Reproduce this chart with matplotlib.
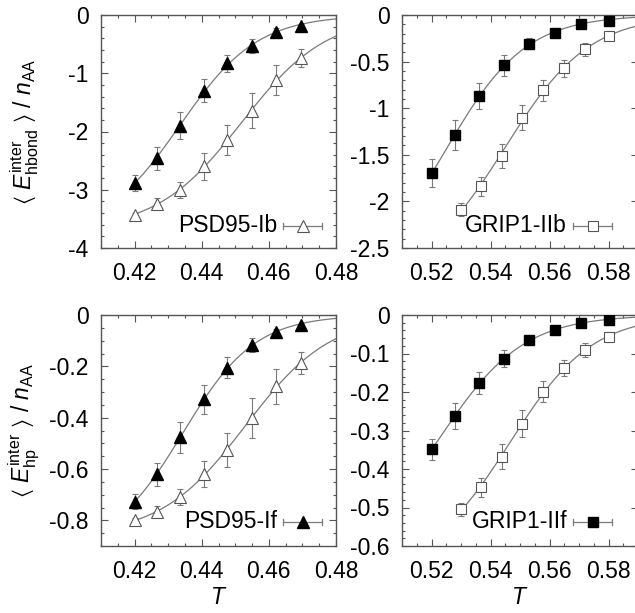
import numpy as np
import matplotlib
matplotlib.use("Agg")
import matplotlib.pyplot as plt
from matplotlib.ticker import MultipleLocator, FormatStrFormatter

plt.rcParams['font.family'] = ['Liberation Sans', 'DejaVu Sans']
plt.rcParams['mathtext.fontset'] = 'custom'
plt.rcParams['mathtext.rm'] = 'Liberation Sans'
plt.rcParams['mathtext.it'] = 'Liberation Sans:italic'
plt.rcParams['mathtext.fallback'] = 'stixsans'
plt.rcParams['axes.unicode_minus'] = False

# ---------------- data ----------------
T_psd = [0.42, 0.4267, 0.4335, 0.4407, 0.4476, 0.455, 0.4621, 0.4696]
T_grip_f = [0.52, 0.528, 0.5362, 0.5447, 0.5531, 0.5619, 0.5706, 0.58]
T_grip_b = [0.53, 0.5367, 0.5438, 0.5506, 0.5577, 0.565, 0.5721, 0.58]

# hydrogen-bond energy (top row)
psd_hb_f = [-2.88, -2.46, -1.90, -1.30, -0.83, -0.53, -0.29, -0.19]
psd_hb_f_err = [0.14, 0.20, 0.23, 0.20, 0.15, 0.12, 0.07, 0.04]
psd_hb_b = [-3.43, -3.24, -3.00, -2.60, -2.15, -1.64, -1.12, -0.74]
psd_hb_b_err = [0.03, 0.09, 0.14, 0.23, 0.26, 0.30, 0.26, 0.16]

grip_hb_f = [-1.70, -1.29, -0.87, -0.54, -0.31, -0.19, -0.10, -0.06]
grip_hb_f_err = [0.15, 0.16, 0.14, 0.11, 0.06, 0.03, 0.03, 0.03]
grip_hb_b = [-2.09, -1.84, -1.51, -1.10, -0.81, -0.57, -0.37, -0.23]
grip_hb_b_err = [0.07, 0.10, 0.13, 0.13, 0.11, 0.09, 0.07, 0.04]

# hydrophobic energy (bottom row)
psd_hp_f = [-0.727, -0.620, -0.477, -0.329, -0.205, -0.118, -0.065, -0.039]
psd_hp_f_err = [0.030, 0.045, 0.060, 0.055, 0.040, 0.027, 0.012, 0.005]
psd_hp_b = [-0.800, -0.766, -0.708, -0.620, -0.526, -0.403, -0.277, -0.188]
psd_hp_b_err = [0.010, 0.022, 0.032, 0.052, 0.065, 0.078, 0.068, 0.042]

grip_hp_f = [-0.349, -0.263, -0.177, -0.113, -0.065, -0.040, -0.020, -0.013]
grip_hp_f_err = [0.028, 0.034, 0.028, 0.022, 0.010, 0.006, 0.004, 0.003]
grip_hp_b = [-0.505, -0.448, -0.368, -0.282, -0.199, -0.138, -0.091, -0.058]
grip_hp_b_err = [0.017, 0.025, 0.033, 0.036, 0.027, 0.021, 0.017, 0.013]

legend_labels = ['PSD95-Ib', 'GRIP1-IIb', 'PSD95-If', 'GRIP1-IIf']
ylabels = [r'$\langle\ E^{\rm inter}_{\rm hbond}\ \rangle\ /\ n_{\rm AA}$',
           r'$\langle\ E^{\rm inter}_{\rm hp}\ \rangle\ /\ n_{\rm AA}$']
xlabel = r'$T$'


def fit_sigmoid(x, y):
    """Least-squares fit y = A / (1 + exp((x - Tc)/w)) (grid search, A linear)."""
    x = np.asarray(x); y = np.asarray(y)
    best = None
    for Tc in np.linspace(x.min() - 0.06, x.max() + 0.06, 400):
        for w in np.linspace(0.002, 0.04, 200):
            g = 1.0 / (1.0 + np.exp((x - Tc) / w))
            A = np.dot(g, y) / np.dot(g, g)
            r = np.sum((A * g - y) ** 2)
            if best is None or r < best[0]:
                best = (r, A, Tc, w)
    _, A, Tc, w = best
    return lambda t: A / (1.0 + np.exp((t - Tc) / w))


fig = plt.figure(figsize=(6.35, 6.13), dpi=100)
W, H = 635.0, 613.0
boxes = {
    (0, 0): (101, 15, 336, 248),
    (0, 1): (402, 15, 638, 248),
    (1, 0): (101, 315, 336, 546),
    (1, 1): (402, 315, 638, 546),
}
axes = {}
for k, (x0, y0, x1, y1) in boxes.items():
    axes[k] = fig.add_axes([x0 / W, 1 - y1 / H, (x1 - x0) / W, (y1 - y0) / H])

panels = [
    dict(key=(0, 0), xs=(T_psd, T_psd), f=(psd_hb_f, psd_hb_f_err), b=(psd_hb_b, psd_hb_b_err),
         marker='^', ms=9, xlim=(0.41, 0.48), ylim=(-4, 0), ymaj=1, ymin=0.2,
         leg=legend_labels[0], legfilled=False, legy=0.095),
    dict(key=(0, 1), xs=(T_grip_f, T_grip_b), f=(grip_hb_f, grip_hb_f_err), b=(grip_hb_b, grip_hb_b_err),
         marker='s', ms=6.5, xlim=(0.51, 0.59), ylim=(-2.5, 0), ymaj=0.5, ymin=0.1,
         leg=legend_labels[1], legfilled=False, legy=0.095),
    dict(key=(1, 0), xs=(T_psd, T_psd), f=(psd_hp_f, psd_hp_f_err), b=(psd_hp_b, psd_hp_b_err),
         marker='^', ms=9, xlim=(0.41, 0.48), ylim=(-0.9, 0), ymaj=0.2, ymin=0.05,
         leg=legend_labels[2], legfilled=True, legy=0.105),
    dict(key=(1, 1), xs=(T_grip_f, T_grip_b), f=(grip_hp_f, grip_hp_f_err), b=(grip_hp_b, grip_hp_b_err),
         marker='s', ms=6.5, xlim=(0.51, 0.59), ylim=(-0.6, 0), ymaj=0.1, ymin=0.02,
         leg=legend_labels[3], legfilled=True, legy=0.105),
]

FS = 16.5
gray = '#7a7a7a'
spine_c = '#555555'
for p in panels:
    ax = axes[p['key']]
    xf, xb = p['xs']
    for (xv, (yv, ev), filled) in ((xf, p['f'], True), (xb, p['b'], False)):
        fn = fit_sigmoid(xv, yv)
        tt = np.linspace(xv[0], p['xlim'][1], 200)
        ax.plot(tt, fn(tt), color=gray, lw=0.9, zorder=2)
        ax.errorbar(xv, yv, yerr=ev, fmt='none', ecolor=gray, elinewidth=0.8,
                    capsize=2.0, capthick=0.8, zorder=3)
        if filled:
            ax.plot(xv, yv, ls='none', marker=p['marker'], ms=p['ms'], mfc='black',
                    mec='black', zorder=4)
        else:
            ax.plot(xv, yv, ls='none', marker=p['marker'], ms=p['ms'], mfc='white',
                    mec='#555555', mew=0.8, zorder=4)
    ax.set_xlim(*p['xlim'])
    ax.set_ylim(*p['ylim'])
    ax.xaxis.set_major_locator(MultipleLocator(0.02))
    ax.xaxis.set_minor_locator(MultipleLocator(0.005))
    ax.yaxis.set_major_locator(MultipleLocator(p['ymaj']))
    ax.yaxis.set_minor_locator(MultipleLocator(p['ymin']))
    ax.xaxis.set_major_formatter(FormatStrFormatter('%g'))
    ax.yaxis.set_major_formatter(FormatStrFormatter('%g'))
    ax.tick_params(which='both', direction='in', top=True, right=True, colors=spine_c,
                   labelcolor='black', labelsize=FS, width=0.8)
    ax.tick_params(which='major', length=5)
    ax.tick_params(axis='x', which='major', pad=10)
    ax.tick_params(axis='y', which='major', pad=9)
    ax.tick_params(which='minor', length=2.5)
    for s in ax.spines.values():
        s.set_color(spine_c)
        s.set_linewidth(1.0)

    # gnuplot-style key
    ly = p['legy']
    tx = 0.75 if p['key'][1] == 0 else 0.70
    ax.text(tx, ly, p['leg'], transform=ax.transAxes, ha='right', va='center', fontsize=FS)
    sx0, sx1 = tx + 0.025, tx + 0.19
    ax.plot([sx0, sx1], [ly, ly], transform=ax.transAxes, color=gray, lw=0.9, clip_on=False)
    for sx in (sx0, sx1):
        ax.plot([sx, sx], [ly - 0.012, ly + 0.012], transform=ax.transAxes, color=gray,
                lw=0.9, clip_on=False)
    mx = (sx0 + sx1) / 2
    if p['legfilled']:
        ax.plot([mx], [ly], transform=ax.transAxes, marker=p['marker'], ms=p['ms'],
                mfc='black', mec='black', clip_on=False)
    else:
        ax.plot([mx], [ly], transform=ax.transAxes, marker=p['marker'], ms=p['ms'],
                mfc='white', mec='#555555', mew=0.8, clip_on=False)

for r in (0, 1):
    ax = axes[(r, 0)]
    ax.set_ylabel(ylabels[r], fontsize=FS)
    ax.yaxis.set_label_coords(-0.255, 0.5)
for c in (0, 1):
    ax = axes[(1, c)]
    ax.set_xlabel(xlabel, fontsize=FS)
    ax.xaxis.set_label_coords(0.5, -0.175)

fig.savefig('out.png', dpi=100)
